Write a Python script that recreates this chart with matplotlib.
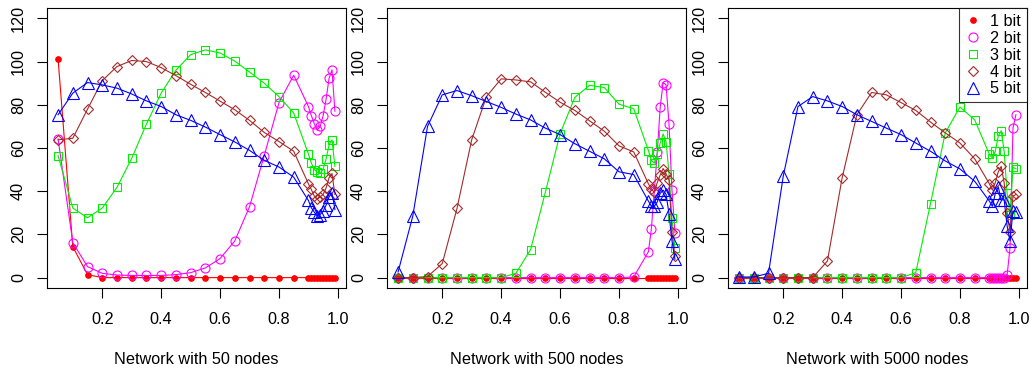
import matplotlib
matplotlib.use('Agg')
import matplotlib.pyplot as plt

plt.rcParams['font.family'] = ['Liberation Sans', 'DejaVu Sans']

# x positions: coarse grid then dense tail
x = [0.05, 0.10, 0.15, 0.20, 0.25, 0.30, 0.35, 0.40, 0.45, 0.50, 0.55, 0.60,
     0.65, 0.70, 0.75, 0.80, 0.85,
     0.90, 0.91, 0.92, 0.93, 0.94, 0.95, 0.96, 0.97, 0.98, 0.99]

# Network with 50 nodes
n50_bit1 = [101.2, 14.3, 1.4] + [0] * 24
n50_bit2 = [64.2, 16.2, 5.1, 2, 1.2, 1, 1, 1, 1.4, 2.3, 4.5, 8.8, 17, 32.8, 56.5, 81, 93.7,
            79.2, 75, 71.2, 68.2, 70, 75, 82.6, 92.2, 96.2, 77]
n50_bit3 = [56.5, 32.2, 27.7, 32.2, 41.8, 55.2, 71.1, 85.4, 96, 103.2, 105.4, 104, 100.2, 95.2, 90, 83.8, 76.2,
            57.2, 53, 50, 48.8, 48.2, 50.3, 55, 61.4, 63.8, 51.5]
n50_bit4 = [63.8, 64.5, 78, 91.2, 97.7, 100.5, 100, 97.2, 93.5, 89.5, 85.7, 81.7, 77.7, 72.8, 67.2, 63, 58.5,
            43.4, 40.8, 37.7, 36.2, 37.4, 38.5, 41.5, 46.2, 48.2, 38.5]
n50_bit5 = [75.4, 85.4, 90.3, 89.2, 87.7, 85, 81.8, 79.2, 75.4, 72.8, 69.7, 66.2, 62.8, 58.9, 54.3, 51.2, 46.5,
            35.7, 32.3, 30.3, 28.5, 29.2, 30.8, 33.5, 37.4, 39.2, 31.5]

# Network with 500 nodes
n500_bit1 = [0] * 27
n500_bit2 = [0] * 16 + [0.3,
             12, 22.7, 40, 58, 78.8, 90.3, 89.2, 71, 40.5, 20.8]
n500_bit3 = [0, 0, 0, 0, 0, 0, 0, 0, 2, 13, 39.5, 66.6, 83.4, 89, 88, 80.3, 78.2,
             58.8, 54.3, 53, 57.4, 62.3, 66.5, 62.8, 48, 27.4, 13.8]
n500_bit4 = [0, 0, 0.5, 6.5, 32, 63.8, 83.8, 92, 91.5, 90.6, 85.8, 81.2, 77.4, 72.6, 67.8, 61, 58.2,
             43.4, 41, 39.5, 44, 47.5, 50.5, 48, 45, 21, 10]
n500_bit5 = [2.6, 28.5, 70, 84.6, 86.6, 84.2, 81.5, 78.8, 75.7, 73, 69.2, 66.2, 62, 58.5, 55, 49, 47.7,
             35.4, 33, 33, 35, 39, 40.5, 38.5, 29.5, 17, 8.5]

# Network with 5000 nodes
n5000_bit1 = [0] * 27
n5000_bit2 = [0] * 23 + [1.1, 13.8, 69.2, 75.4]
n5000_bit3 = [0] * 12 + [2.3, 34.3, 67, 79, 73,
              57, 55.5, 58.5, 65.5, 68, 58.5, 39, 29, 51, 50.5]
n5000_bit4 = [0, 0, 0, 0, 0, 0, 7.7, 46.2, 75.4, 85.7, 84.6, 81, 77.4, 72, 67, 62.3, 55,
              43.4, 40.5, 44, 49, 51.5, 44, 30, 21, 37.7, 38.5]
n5000_bit5 = [0.3, 0.3, 2, 47, 79.2, 83.8, 81.8, 79.2, 75.4, 72.3, 69.2, 66.2, 62.3, 58.5, 54, 50.3, 44.6,
              35.4, 33, 39, 42, 36, 36, 24, 17, 30.8, 30.5]

titles = ['Network with 50 nodes', 'Network with 500 nodes', 'Network with 5000 nodes']
labels = ['1 bit', '2 bit', '3 bit', '4 bit', '5 bit']
panels = [
    [n50_bit1, n50_bit2, n50_bit3, n50_bit4, n50_bit5],
    [n500_bit1, n500_bit2, n500_bit3, n500_bit4, n500_bit5],
    [n5000_bit1, n5000_bit2, n5000_bit3, n5000_bit4, n5000_bit5],
]

# (color, marker, markersize, filled)
STYLES = [
    ('#FF0000', 'o', 4.0, True),
    ('#FF00FF', 'o', 6.5, False),
    ('#00EE00', 's', 5.6, False),
    ('#A52A2A', 'D', 5.4, False),
    ('#0000FF', '^', 8.0, False),
]

FS = 11.7
fig = plt.figure(figsize=(10.32, 3.72), dpi=100)
lefts = [47, 387, 728]
for i, (left, series) in enumerate(zip(lefts, panels)):
    ax = fig.add_axes([left / 1032, 1 - 288 / 372, 299 / 1032, 280 / 372])
    for ys, lab, (c, m, ms, filled) in zip(series, labels, STYLES):
        ax.plot(x, ys, color=c, lw=0.8, marker=m, markersize=ms,
                markerfacecolor=c if filled else 'none', markeredgecolor=c,
                markeredgewidth=0.8, label=lab)
    ax.set_xlim(0.05 - 0.0376, 0.99 + 0.0376)
    ax.set_ylim(-4.8, 124.8)
    ax.set_xticks([0.2, 0.4, 0.6, 0.8, 1.0])
    ax.set_xticklabels(['0.2', '0.4', '0.6', '0.8', '1.0'])
    ax.set_yticks([0, 20, 40, 60, 80, 100, 120])
    ax.tick_params(axis='x', length=7.2, width=0.8, labelsize=FS, pad=10)
    ax.tick_params(axis='y', length=7.2, width=0.8, labelsize=FS, pad=8, labelrotation=90)
    for t in ax.get_yticklabels():
        t.set_va('center')
    for s in ax.spines.values():
        s.set_linewidth(0.8)
    ax.set_xlabel(titles[i], fontsize=FS, labelpad=18)
    if i == 2:
        leg = ax.legend(loc='upper right', fontsize=FS, frameon=True, fancybox=False,
                        borderaxespad=0, borderpad=0.35, labelspacing=0.12,
                        handlelength=1.0, handletextpad=0.6, numpoints=1)
        leg.get_frame().set_edgecolor('black')
        leg.get_frame().set_linewidth(0.8)
        for h in leg.get_lines():
            h.set_linestyle('none')

fig.savefig('out.png', dpi=100)
